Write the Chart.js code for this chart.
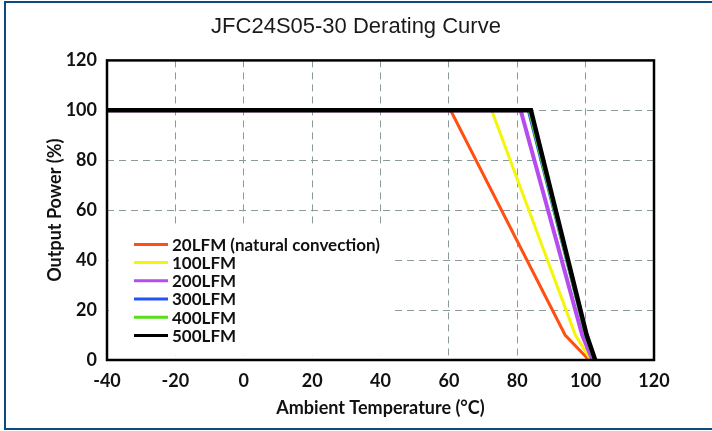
<!DOCTYPE html>
<html>
<head>
<meta charset="utf-8">
<title>JFC24S05-30 Derating Curve</title>
<script src="https://cdn.jsdelivr.net/npm/chart.js@4.4.1/dist/chart.umd.min.js"></script>
<style>
  html, body { margin: 0; padding: 0; background: #fff; }
  #wrap { position: relative; width: 712px; height: 431px; }
  #frame { position: absolute; left: 4px; top: 1px; right: 0; bottom: 1px; border: 2px solid #0d4a7e; border-right: none; pointer-events: none; }
</style>
</head>
<body>
<div id="wrap">
  <canvas id="derating" width="712" height="431"></canvas>
  <div id="frame"></div>
</div>
<script>
// Data
const seriesLabels = ['20LFM (natural convection)', '100LFM', '200LFM', '300LFM', '400LFM', '500LFM'];
const powerLevels = [100, 100, 10, 0];
const temps20 = [-40, 60.5, 94, 101];
const temps100 = [-40, 72.5, 97, 101.5];
const temps200 = [-40, 81, 99, 102];
const temps300 = [-40, 83, 99.8, 102.5];
const temps400 = [-40, 83.5, 100, 102.5];
const temps500 = [-40, 84, 100.3, 102.8];
const xTicks = [-40, -20, 0, 20, 40, 60, 80, 100, 120];
const yTicks = [0, 20, 40, 60, 80, 100, 120];

// Styles
const lineColors = ['#ff5014', '#f5f50a', '#b44cf0', '#2452f5', '#55e01a', '#000000'];
const lineWidths = [3, 3, 4, 1.5, 3, 4.5];
const GRID = '#8a9a9a';
const TICK_FONT = { family: 'Lato', size: 18, weight: 'bold' };
const LABEL_FONT = { family: 'Lato', size: 18, weight: 'bold' };

const tempSeries = [temps20, temps100, temps200, temps300, temps400, temps500];

const datasets = tempSeries.map((temps, i) => ({
  label: seriesLabels[i],
  data: temps.map((t, j) => ({ x: t, y: powerLevels[j] })),
  borderColor: lineColors[i],
  backgroundColor: lineColors[i],
  borderWidth: lineWidths[i],
  pointRadius: 0,
  tension: 0,
  fill: false,
  order: tempSeries.length - 1 - i  // 500LFM on top
}));

// white legend block over the grid, frame and legend entries
const legendBox = {
  id: 'legendBox',
  beforeDatasetsDraw(chart) {
    const { ctx, chartArea: a } = chart;
    ctx.save();
    ctx.fillStyle = '#fff';
    ctx.fillRect(a.left + 2, a.top + 164, 281, 131);
    ctx.restore();
  },
  afterDatasetsDraw(chart) {
    const { ctx, chartArea: a } = chart;
    ctx.save();
    ctx.strokeStyle = '#000';
    ctx.lineWidth = 2.5;
    ctx.strokeRect(a.left, a.top, a.right - a.left, a.bottom - a.top);

    ctx.font = 'bold 17px Lato';
    ctx.textBaseline = 'middle';
    chart.data.datasets.forEach((ds, i) => {
      const y = a.top + 184 + i * 18.2;
      ctx.strokeStyle = ds.borderColor;
      ctx.lineWidth = 3;
      ctx.beginPath();
      ctx.moveTo(a.left + 27, y);
      ctx.lineTo(a.left + 61, y);
      ctx.stroke();
      ctx.fillStyle = '#111';
      ctx.fillText(ds.label, a.left + 65, y + 1);
    });
    ctx.restore();
  }
};

new Chart(document.getElementById('derating'), {
  type: 'line',
  data: { datasets },
  options: {
    responsive: false,
    animation: false,
    layout: { padding: 0 },
    plugins: {
      legend: { display: false },
      tooltip: { enabled: false },
      title: {
        display: true,
        text: 'JFC24S05-30 Derating Curve',
        color: '#1a1a1a',
        font: { family: 'Liberation Sans', size: 22, weight: 'normal' },
        padding: { top: 14, bottom: 20 }
      }
    },
    scales: {
      x: {
        type: 'linear',
        min: -40,
        max: 120,
        afterBuildTicks: s => { s.ticks = xTicks.map(v => ({ value: v })); },
        afterFit: s => { s.height = 71; },
        grid: { color: GRID, lineWidth: 1, drawTicks: false },
        border: { display: false, dash: [7, 5] },
        ticks: { color: '#111', font: TICK_FONT, padding: 10, maxRotation: 0 },
        title: {
          display: true,
          text: 'Ambient Temperature (°C)',
          color: '#111',
          font: LABEL_FONT,
          padding: { top: 0, bottom: 12 }
        }
      },
      y: {
        min: 0,
        max: 120,
        afterBuildTicks: s => { s.ticks = yTicks.map(v => ({ value: v })); },
        afterFit: s => { s.width = 107; },
        grid: { color: GRID, lineWidth: 1, drawTicks: false },
        border: { display: false, dash: [7, 5] },
        ticks: { color: '#111', font: TICK_FONT, padding: 10 },
        title: {
          display: true,
          text: 'Output Power (%)',
          color: '#111',
          font: LABEL_FONT,
          padding: { top: 44, bottom: 0 }
        }
      },
      yRight: {
        position: 'right',
        display: true,
        afterFit: s => { s.width = 58; },
        grid: { display: false },
        border: { display: false },
        ticks: { display: false }
      }
    }
  },
  plugins: [legendBox]
});
</script>
</body>
</html>
